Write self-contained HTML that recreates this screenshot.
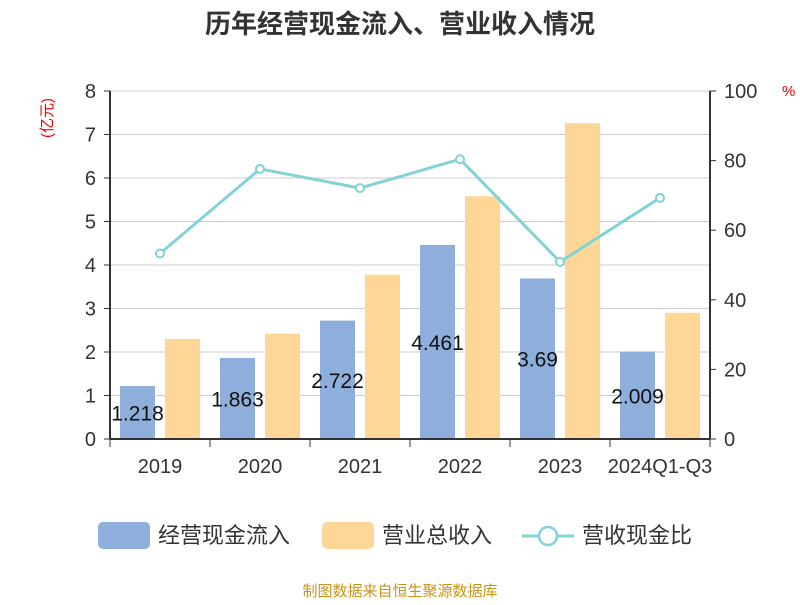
<!DOCTYPE html>
<html><head><meta charset="utf-8"><style>
body{margin:0;background:#fff;font-family:"Liberation Sans","Noto Sans CJK SC",sans-serif;}
</style></head><body>
<svg width="800" height="600" xmlns="http://www.w3.org/2000/svg" font-family="Liberation Sans, Noto Sans CJK SC, sans-serif">
<text x="400" y="33" text-anchor="middle" font-size="26" font-weight="bold" fill="#333">历年经营现金流入、营业收入情况</text>
<text transform="translate(52,118) rotate(-90)" text-anchor="middle" font-size="15" fill="#e00">(亿元)</text>
<text x="782" y="96" font-size="15" fill="#e00">%</text>
<g id="grid"></g><g id="bars"></g><g id="line"></g><g id="axes"></g>
<g>
<rect x="98" y="522" width="52" height="27" rx="5" fill="#8eaedb"/>
<text x="158" y="543" font-size="22" fill="#333">经营现金流入</text>
<rect x="322" y="522" width="52" height="27" rx="5" fill="#fed797"/>
<text x="382" y="543" font-size="22" fill="#333">营业总收入</text>
<line x1="522" y1="536" x2="574" y2="536" stroke="#82d3d6" stroke-width="3"/>
<circle cx="548" cy="536" r="9" fill="#fff" stroke="#82d3d6" stroke-width="2.5"/>
<text x="582" y="543" font-size="22" fill="#333">营收现金比</text>
</g>
<text x="400" y="596" text-anchor="middle" font-size="15" fill="#c8941a">制图数据来自恒生聚源数据库</text>
</svg>
<script>
const categories=["2019","2020","2021","2022","2023","2024Q1-Q3"];
const cashInflow=[1.218,1.863,2.722,4.461,3.69,2.009];
const revenue=[2.3,2.42,3.78,5.58,7.26,2.9];
const ratio=[53.3,77.6,72.1,80.4,50.9,69.3];
const leftTicks=[0,1,2,3,4,5,6,7,8];
const rightTicks=[0,20,40,60,80,100];
const NS="http://www.w3.org/2000/svg";
const X0=110,X1=710,Y0=439,Y1=91,band=(X1-X0)/categories.length;
const yL=v=>Y0-(v/8)*(Y0-Y1), yR=v=>Y0-(v/100)*(Y0-Y1), bx=i=>X0+i*band;
function mk(p,t,a){const e=document.createElementNS(NS,t);for(const k in a)e.setAttribute(k,a[k]);p.appendChild(e);return e;}
const g=document.getElementById('grid'),b=document.getElementById('bars'),l=document.getElementById('line'),ax=document.getElementById('axes');
leftTicks.forEach(v=>{const e=mk(g,'line',{x1:X0,x2:X1,y1:yL(v),y2:yL(v),stroke:'#ccc','stroke-width':1});

const t=mk(ax,'text',{x:X0-14,y:yL(v)+7,'text-anchor':'end','font-size':20,fill:'#333'});t.textContent=v;

const tk=mk(ax,'line',{x1:X0-6,x2:X0,y1:yL(v),y2:yL(v),stroke:'#333'});});
rightTicks.forEach(v=>{const t=mk(ax,'text',{x:X1+14,y:yR(v)+7,'font-size':20,fill:'#333'});t.textContent=v;

const tk=mk(ax,'line',{x1:X1,x2:X1+6,y1:yR(v),y2:yR(v),stroke:'#333'});});
categories.forEach((c,i)=>{
const r1=mk(b,'rect',{x:bx(i)+10,y:yL(cashInflow[i]),width:35,height:Y0-yL(cashInflow[i]),fill:'#8eaedb'});

const r2=mk(b,'rect',{x:bx(i)+55,y:yL(revenue[i]),width:35,height:Y0-yL(revenue[i]),fill:'#fed797'});

const t=mk(b,'text',{x:bx(i)+27.5,y:(yL(cashInflow[i])+Y0)/2+8,'text-anchor':'middle','font-size':21,fill:'#111'});t.textContent=cashInflow[i];

const xl=mk(ax,'text',{x:bx(i)+band/2,y:Y0+34,'text-anchor':'middle','font-size':20,fill:'#333'});xl.textContent=c;
});
for(let i=0;i<=categories.length;i++){const tk=mk(ax,'line',{x1:bx(i),x2:bx(i),y1:Y0,y2:Y0+8,stroke:'#333'});}
const pl=mk(l,'polyline',{points:ratio.map((v,i)=>(bx(i)+band/2)+','+yR(v)).join(' '),fill:'none',stroke:'#82d3d6','stroke-width':3});

ratio.forEach((v,i)=>{const c=mk(l,'circle',{cx:bx(i)+band/2,cy:yR(v),r:4,fill:'#fff',stroke:'#82d3d6','stroke-width':2});
});
const a1=mk(ax,'line',{x1:X0,x2:X0,y1:Y1,y2:Y0,stroke:'#333','stroke-width':2});
const a2=mk(ax,'line',{x1:X1,x2:X1,y1:Y1,y2:Y0,stroke:'#333','stroke-width':2});
const a3=mk(ax,'line',{x1:X0,x2:X1,y1:Y0,y2:Y0,stroke:'#333','stroke-width':2});
</script>
</body></html>
